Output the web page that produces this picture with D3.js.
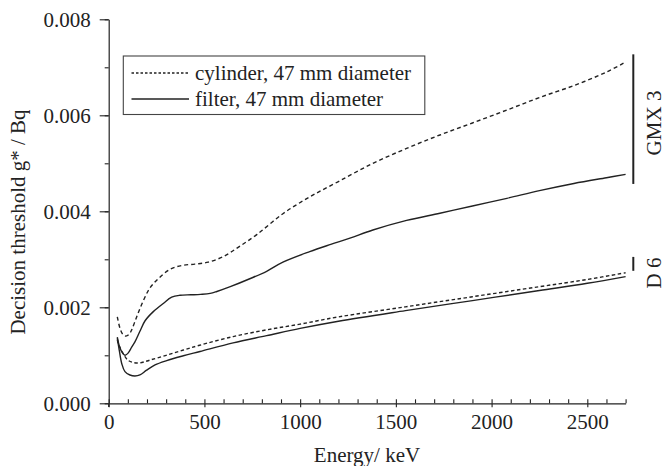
<!DOCTYPE html>
<html><head><meta charset="utf-8">
<script src="https://cdn.jsdelivr.net/npm/d3@7"></script>
<style>
body{margin:0;background:#fff}
</style></head>
<body><svg id="c" width="665" height="466" style="font-family:'Liberation Serif','Times New Roman','DejaVu Serif',serif"></svg>
<script>
// Energy (keV), decision threshold (Bq)
const cylGMX = [[45,0.00180],[60,0.00155],[75,0.00143],[90,0.00140],[105,0.00143],[120,0.00153],[146,0.00180],[180,0.00213],[215,0.00240],[260,0.00260],[320,0.00279],[380,0.00287],[450,0.00290],[520,0.00294],[600,0.00306],[680,0.00326],[775,0.00352],[910,0.00395],[1050,0.00430],[1200,0.00462],[1380,0.00500],[1556,0.00531],[1730,0.00559],[1900,0.00584],[2080,0.00611],[2250,0.00637],[2430,0.00662],[2600,0.00690],[2700,0.00711]];
const filGMX = [[45,0.00138],[55,0.00120],[70,0.00106],[85,0.00100],[100,0.00104],[120,0.00117],[137,0.00128],[163,0.00150],[190,0.00172],[233,0.00191],[285,0.00208],[329,0.00221],[372,0.00225],[430,0.00226],[480,0.00227],[530,0.00229],[565,0.00233],[635,0.00243],[740,0.00260],[825,0.00275],[910,0.00294],[1050,0.00316],[1160,0.00331],[1260,0.00344],[1380,0.00361],[1556,0.00381],[1730,0.00396],[1900,0.00411],[2080,0.00427],[2250,0.00443],[2430,0.00458],[2600,0.00470],[2700,0.00477]];
const cylD6 = [[45,0.00132],[55,0.00120],[75,0.00104],[100,0.00090],[128,0.00085],[160,0.00084],[215,0.00090],[300,0.00100],[390,0.00111],[475,0.00121],[650,0.00139],[825,0.00153],[1000,0.00165],[1200,0.00180],[1550,0.00201],[1900,0.00222],[2250,0.00243],[2500,0.00258],[2700,0.00272]];
const filD6 = [[45,0.00135],[55,0.00111],[68,0.00083],[85,0.00066],[111,0.00059],[137,0.00057],[163,0.00059],[198,0.00069],[242,0.00080],[303,0.00089],[390,0.00099],[477,0.00108],[650,0.00126],[825,0.00141],[1000,0.00156],[1200,0.00171],[1550,0.00193],[1900,0.00214],[2250,0.00235],[2500,0.00250],[2700,0.00264]];
const legendLabels = ["cylinder, 47 mm diameter","filter, 47 mm diameter"];
const xMajor = [0,500,1000,1500,2000,2500];
const yMajor = [0,0.002,0.004,0.006,0.008];
const groupLabels = ["GMX 3","D 6"];
const groupRanges = [[0.00727,0.00457],[0.00305,0.00276]];

const FONT = "'Liberation Serif','Times New Roman','DejaVu Serif',serif";
const svg = d3.select("#c");
const x = d3.scaleLinear().domain([0,2700]).range([108.7,625.6]);
const y = d3.scaleLinear().domain([0,0.008]).range([403.3,19.3]);
const ink = "#222";

// axes
const xMinor = d3.range(0,2701,100);
const gx = svg.append("g").attr("transform","translate(0,403.3)");
gx.call(d3.axisBottom(x).tickValues(xMinor).tickSizeInner(-4).tickSizeOuter(0).tickFormat(""));
const gx2 = svg.append("g").attr("transform","translate(0,403.3)");
gx2.call(d3.axisBottom(x).tickValues(xMajor).tickSizeInner(4).tickSizeOuter(0).tickPadding(6).tickFormat(d3.format("d")));
gx2.select(".domain").remove();
const yMinor = d3.range(0,0.0081,0.001);
const gy = svg.append("g").attr("transform","translate(108.7,0)");
gy.call(d3.axisLeft(y).tickValues(yMinor).tickSizeInner(4).tickSizeOuter(0).tickFormat(""));
const gy2 = svg.append("g").attr("transform","translate(108.7,0)");
gy2.call(d3.axisLeft(y).tickValues(yMajor).tickSizeInner(9).tickSizeOuter(0).tickPadding(9).tickFormat(d3.format(".3f")));
gy2.select(".domain").remove();
svg.selectAll("g").attr("font-family",FONT);
svg.selectAll(".domain").attr("stroke",ink).attr("stroke-width",1.2);
svg.selectAll(".tick line").attr("stroke",ink).attr("stroke-width",1.1);
svg.selectAll(".tick text").attr("font-size",21).attr("font-family",FONT).attr("fill",ink);
gx2.selectAll(".tick text").attr("dy","0.75em");
svg.append("line").attr("x1",108.7).attr("x2",108.7).attr("y1",403.3).attr("y2",407).attr("stroke",ink).attr("stroke-width",1.2);

// axis titles
svg.append("text").attr("x",367).attr("y",462).attr("text-anchor","middle").attr("font-size",21).attr("font-family",FONT).attr("fill",ink).text("Energy/ keV");
svg.append("text").attr("transform","translate(25,222) rotate(-90)").attr("text-anchor","middle").attr("font-size",21).attr("font-family",FONT).attr("fill",ink).text("Decision threshold g* / Bq");

// curves
const line = d3.line().x(d=>x(d[0])).y(d=>y(d[1])).curve(d3.curveCatmullRom.alpha(0.5));
const series = [
  {d:cylGMX, dash:"4,3"},
  {d:filGMX, dash:null},
  {d:cylD6, dash:"3.5,2.5"},
  {d:filD6, dash:null}
];
series.forEach(s=>{
  svg.append("path").attr("d",line(s.d)).attr("fill","none").attr("stroke",ink)
    .attr("stroke-width",1.4).attr("stroke-dasharray",s.dash);
});

// legend
svg.append("rect").attr("x",123.3).attr("y",56).attr("width",301.5).attr("height",58.5)
  .attr("fill","#fff").attr("stroke","#444").attr("stroke-width",1.1);
legendLabels.forEach((t,i)=>{
  const yy = 73 + i*26;
  svg.append("line").attr("x1",131.5).attr("x2",189).attr("y1",yy).attr("y2",yy)
    .attr("stroke",ink).attr("stroke-width",1.3).attr("stroke-dasharray",i===0?"2.5,2":null);
  svg.append("text").attr("x",195).attr("y",yy+7).attr("font-size",21).attr("font-family",FONT).attr("fill",ink).text(t);
});

// group brackets
groupRanges.forEach((r,i)=>{
  svg.append("line").attr("x1",633.3).attr("x2",633.3).attr("y1",y(r[0])).attr("y2",y(r[1]))
    .attr("stroke",ink).attr("stroke-width",2);
});
svg.append("text").attr("transform","translate(661,123) rotate(-90)").attr("text-anchor","middle").attr("font-size",21).attr("font-family",FONT).attr("fill",ink).text(groupLabels[0]);
svg.append("text").attr("transform","translate(661,273) rotate(-90)").attr("text-anchor","middle").attr("font-size",21).attr("font-family",FONT).attr("fill",ink).text(groupLabels[1]);
</script></body></html>
